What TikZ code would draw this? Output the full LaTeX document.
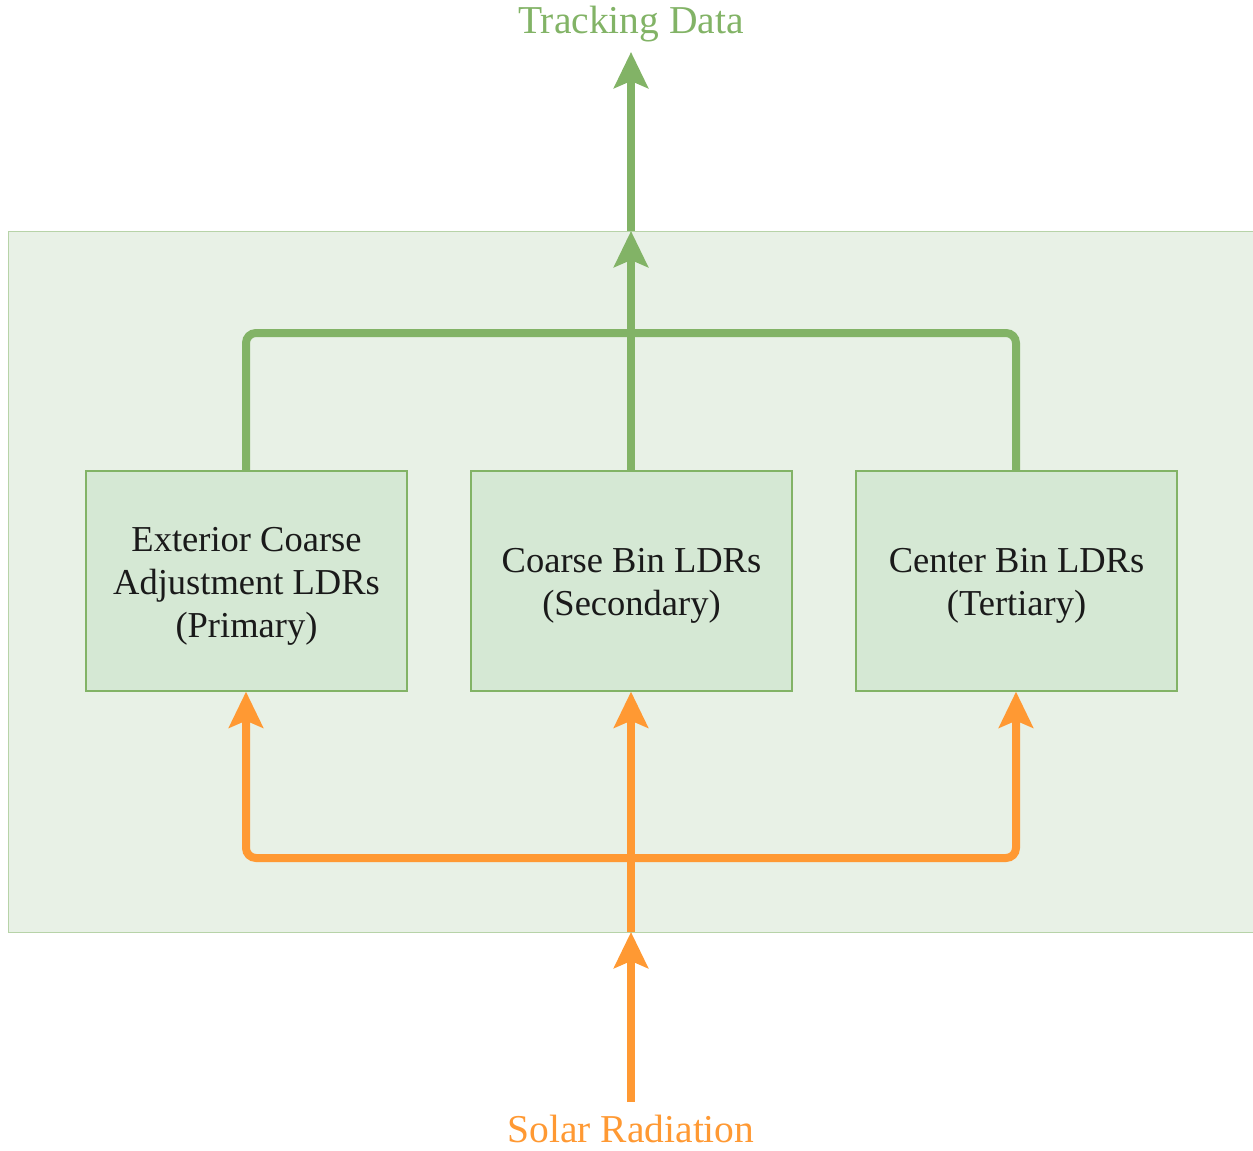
\documentclass[tikz,border=0pt]{standalone}
\usepackage{fontspec}
\setmainfont{Liberation Serif}
\usetikzlibrary{arrows.meta}

\definecolor{grline}{HTML}{82B366}
\definecolor{grfill}{HTML}{D5E8D4}
\definecolor{panelfill}{HTML}{E8F1E6}
\definecolor{panelline}{HTML}{B7D3A8}
\definecolor{orline}{HTML}{FF9933}
\definecolor{boxtext}{HTML}{1A1A1A}

\tikzset{
  panel/.style={draw=panelline, line width=1pt, fill=panelfill, minimum width=1245pt, minimum height=701pt, inner sep=0pt},
  ldrbox/.style={draw=grline, line width=1.3pt, fill=grfill, minimum width=321pt, minimum height=220pt, inner sep=0pt},
  ldrtext/.style={align=center, text=boxtext, inner sep=0pt, font=\fontsize{36.5}{43}\selectfont},
  flow/.style={line width=8pt, rounded corners=10pt},
  tip/.style={-{Stealth[length=36pt,width=34pt,inset=7pt]}},
  greenflow/.style={flow, draw=grline},
  orangeflow/.style={flow, draw=orline},
  caption/.style={font=\fontsize{39.5}{44}\selectfont, anchor=base, inner sep=0pt}
}

\begin{document}
\begin{tikzpicture}[x=1pt, y=-1pt]
  \useasboundingbox (0,0) rectangle (1253,1151);

  % shaded panel holding the three sensor groups
  \node[panel] (panel) at (630.5,581.5) {};

  % sensor groups
  \node[ldrbox] (primary)   at (246.5,581) {};
  \node[ldrbox] (secondary) at (631.5,581) {};
  \node[ldrbox] (tertiary)  at (1016.5,581) {};
  \node[ldrtext] (primarytext)   at (246.5,586) {Exterior Coarse\\Adjustment LDRs\\(Primary)};
  \node[ldrtext] (secondarytext) at (631.5,586) {Coarse Bin LDRs\\(Secondary)};
  \node[ldrtext] (tertiarytext)  at (1016.5,586) {Center Bin LDRs\\(Tertiary)};

  % input and output labels
  \node[caption, text=grline] (track) at (631,33) {Tracking Data};
  \node[caption, text=orline] (solar) at (631,1142) {Solar Radiation};

  % junction points on the two buses
  \coordinate (gbus) at (631,333);
  \coordinate (obus) at (631,858);
  \coordinate (panelin)  at (631,932);
  \coordinate (panelout) at (631,231);
  \coordinate (trackin)  at (631,52);
  \coordinate (solarout) at (631,1102);

  % outputs collected at the top
  \draw[greenflow] (primary.north -| 246,0) |- (gbus) -| (tertiary.north -| 1016,0);
  \draw[greenflow, tip] (secondary.north -| gbus) -- (panelout);
  \draw[greenflow, tip] (panelout) -- (trackin);

  % radiation fed in from the bottom
  \draw[orangeflow, tip] (solarout) -- (panelin);
  \draw[orangeflow] (panelin) -- (obus);
  \draw[orangeflow, tip] (obus) -| (primary.south -| 246,0);
  \draw[orangeflow, tip] (obus) -| (tertiary.south -| 1016,0);
  \draw[orangeflow, tip] (obus) -- (secondary.south -| obus);
\end{tikzpicture}
\end{document}
